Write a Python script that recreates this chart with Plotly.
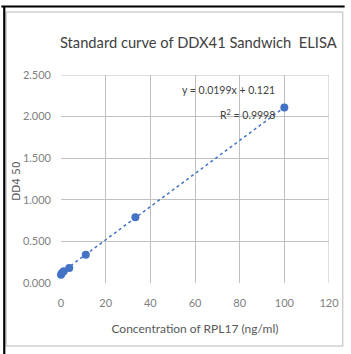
import numpy as np
import plotly.graph_objects as go

# Data
conc = [0, 0.41, 1.23, 3.7, 11.1, 33.3, 100]
od450 = [0.10, 0.12, 0.14, 0.18, 0.34, 0.79, 2.11]
slope = 0.0199
intercept = 0.121
r2 = 0.9998
x_ticks = [0, 20, 40, 60, 80, 100, 120]
y_ticks = [0.0, 0.5, 1.0, 1.5, 2.0, 2.5]
y_tick_labels = ["0.000", "0.500", "1.000", "1.500", "2.000", "2.500"]

W, H = 351, 354
L, R, T, B = 61, 16, 75, 71
pw, ph = W - L - R, H - T - B

def px(xp):
    return (xp - L) / pw

def py(yp):
    return (H - B - yp) / ph

FONT = "Lato, sans-serif"
BLUE = "#4472C4"
GRID = "#c0c0c0"

trend_x = np.array([min(conc), max(conc)])
trend_y = slope * trend_x + intercept

fig = go.Figure()
fig.add_trace(go.Scatter(x=trend_x, y=trend_y, mode="lines",
                         line=dict(color=BLUE, width=1.5, dash="dot"),
                         hoverinfo="skip", showlegend=False))
fig.add_trace(go.Scatter(x=conc, y=od450, mode="markers",
                         marker=dict(color=BLUE, size=8),
                         cliponaxis=False, showlegend=False))

fig.add_annotation(x=96.8, y=2.32, xref="x", yref="y",
                   text=f"y = {slope}x + {intercept}", showarrow=False,
                   xanchor="right", yanchor="middle",
                   font=dict(family=FONT, size=10.5, color="#404040"))
fig.add_annotation(x=96.8, y=2.02, xref="x", yref="y",
                   text=f"R<sup>2</sup> = {r2}", showarrow=False,
                   xanchor="right", yanchor="middle",
                   font=dict(family=FONT, size=10.5, color="#404040"))
fig.add_annotation(x=px(23), y=py(181), xref="paper", yref="paper",
                   text="DD4 50", showarrow=False, textangle=-90,
                   xanchor="right", yanchor="middle",
                   font=dict(family="DejaVu Sans, sans-serif", size=10.5,
                             color="#595959"))

shapes = [
    dict(type="rect", xref="paper", yref="paper",
         x0=px(5), x1=px(349), y0=py(346), y1=py(12),
         line=dict(color="#d0d0d0", width=1.5), fillcolor="rgba(0,0,0,0)",
         layer="below"),
    dict(type="line", xref="paper", yref="paper",
         x0=px(0), x1=px(351), y0=py(6.5), y1=py(6.5),
         line=dict(color="black", width=2.2)),
    dict(type="line", xref="paper", yref="paper",
         x0=px(3), x1=px(3), y0=py(6.5), y1=py(354),
         line=dict(color="black", width=2.2)),
]

fig.update_layout(
    width=W, height=H,
    margin=dict(l=L, r=R, t=T, b=B),
    paper_bgcolor="white", plot_bgcolor="rgba(0,0,0,0)",
    shapes=shapes,
    title=dict(text="Standard curve of DDX41 Sandwich  ELISA",
               x=0.565, xanchor="center", y=1 - 43 / H, yanchor="middle",
               font=dict(family=FONT, size=14.7, color="#404040")),
    xaxis=dict(range=[0, 120], tickmode="array", tickvals=x_ticks,
               showgrid=True, gridcolor=GRID, gridwidth=1, zeroline=False,
               showline=False, ticks="", ticklabelstandoff=12,
               tickfont=dict(family=FONT, size=11, color="#808080"),
               title=dict(text="Concentration of RPL17 (ng/ml)", standoff=16,
                          font=dict(family=FONT, size=12, color="#595959"))),
    yaxis=dict(range=[0, 2.5], tickmode="array", tickvals=y_ticks,
               ticktext=y_tick_labels,
               showgrid=True, gridcolor=GRID, gridwidth=1,
               zeroline=False, showline=False, ticks="", ticklabelstandoff=9,
               tickfont=dict(family=FONT, size=11, color="#808080")),
)
fig.add_shape(type="line", xref="x", yref="y", x0=120, x1=120, y0=0, y1=2.5,
              line=dict(color=GRID, width=1))
fig.add_shape(type="line", xref="x", yref="y", x0=0, x1=120, y0=2.5, y1=2.5,
              line=dict(color=GRID, width=1))

fig.write_html("out.html", config={"displayModeBar": False},
               post_script="document.body.style.margin='0';"
                           "document.body.style.overflow='hidden';")
